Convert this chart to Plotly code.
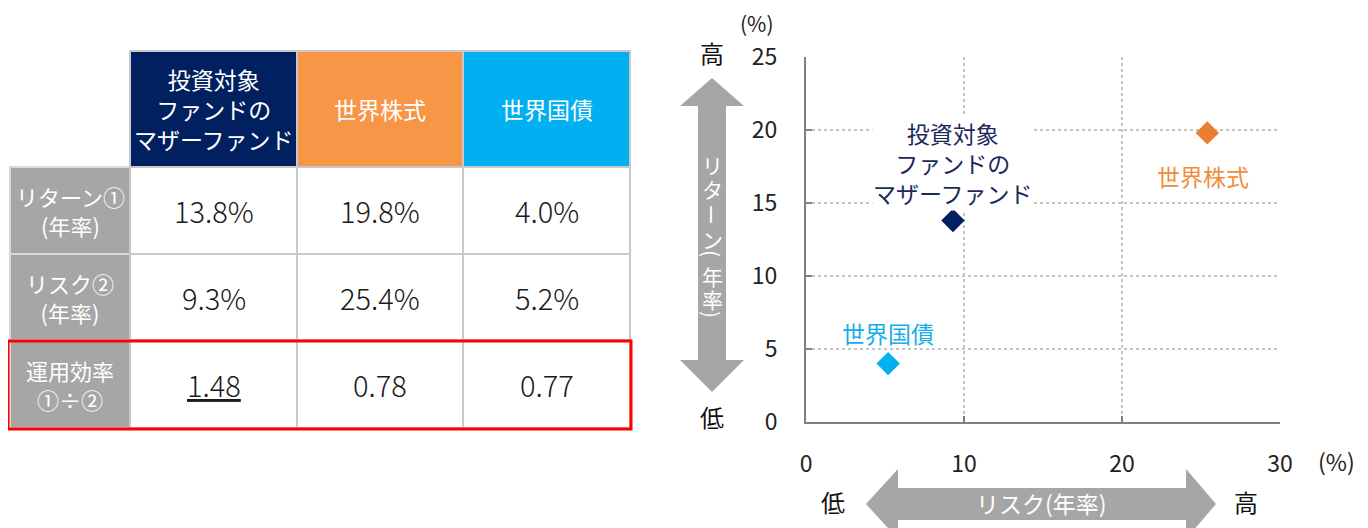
import plotly.graph_objects as go

# The page body adds an 8px margin; the figure is sized so that
# it exactly fills the 1368x528 viewport after that offset.
OFF = 8
W, H = 1368 - OFF, 528 - OFF
FONT = "Noto Sans CJK JP"

# ---------------- data ----------------
assets_table = ["投資対象<br>ファンドの<br>マザーファンド", "世界株式", "世界国債"]
assets_chart = ["投資対象<br>ファンドの<br>マザーファンド", "世界株式", "世界国債"]
returns = [13.8, 19.8, 4.0]      # リターン① (年率, %)
risks = [9.3, 25.4, 5.2]         # リスク② (年率, %)
efficiency = [1.48, 0.78, 0.77]  # 運用効率 ①÷②
row_labels = ["リターン①<br>(年率)", "リスク②<br>(年率)", "運用効率<br>①÷②"]
x_ticks = [0, 10, 20, 30]
y_ticks = [0, 5, 10, 15, 20, 25]

header_colors = ["#002060", "#F79646", "#00B0F0"]
marker_colors = ["#002060", "#ED7D31", "#00B0F0"]
label_colors = ["#1B2A5C", "#F28C3A", "#16ADEA"]


def px(x):
    return (x - OFF) / W


def py(y):
    return 1 - (y - OFF) / H


fig = go.Figure()

fig.add_trace(go.Scatter(
    x=risks, y=returns, mode="markers",
    marker=dict(symbol="diamond", size=18, color=marker_colors, line=dict(width=0)),
    hoverinfo="skip", showlegend=False,
))

shapes = []
annotations = []

# ---------------- table ----------------
col_edges = [10, 130, 297, 463, 630]
row_edges = [51, 167, 254, 340, 428]
grid_line = "#c9c9c9"
label_fill = "#a6a6a6"

for j in range(3):
    x0, x1 = col_edges[j + 1], col_edges[j + 2]
    y0, y1 = row_edges[0], row_edges[1]
    shapes.append(dict(type="rect", xref="paper", yref="paper",
                       x0=px(x0), x1=px(x1), y0=py(y1), y1=py(y0),
                       fillcolor=header_colors[j], line=dict(color=grid_line, width=2), layer="below"))
    annotations.append(dict(xref="paper", yref="paper", x=px((x0 + x1) / 2), y=py((y0 + y1) / 2),
                            text=assets_table[j], showarrow=False, xanchor="center", yanchor="middle",
                            font=dict(family=FONT, size=23, color="white")))

values_text = [
    [f"{v:.1f}%" for v in returns],
    [f"{v:.1f}%" for v in risks],
    [(f"<u>{v:.2f}</u>" if k == 0 else f"{v:.2f}") for k, v in enumerate(efficiency)],
]

for i in range(3):
    y0, y1 = row_edges[i + 1], row_edges[i + 2]
    shapes.append(dict(type="rect", xref="paper", yref="paper",
                       x0=px(col_edges[0]), x1=px(col_edges[1]), y0=py(y1), y1=py(y0),
                       fillcolor=label_fill, line=dict(color="#d9d9d9", width=2), layer="below"))
    annotations.append(dict(xref="paper", yref="paper", x=px((col_edges[0] + col_edges[1]) / 2),
                            y=py((y0 + y1) / 2), text=row_labels[i], showarrow=False,
                            xanchor="center", yanchor="middle",
                            font=dict(family=FONT, size=22, color="white")))
    for j in range(3):
        x0, x1 = col_edges[j + 1], col_edges[j + 2]
        shapes.append(dict(type="rect", xref="paper", yref="paper",
                           x0=px(x0), x1=px(x1), y0=py(y1), y1=py(y0),
                           fillcolor="white", line=dict(color=grid_line, width=2), layer="below"))
        annotations.append(dict(xref="paper", yref="paper", x=px((x0 + x1) / 2), y=py((y0 + y1) / 2),
                                text=values_text[i][j], showarrow=False, xanchor="center", yanchor="middle",
                                font=dict(family=FONT, size=29, color="#1a1a1a", weight=300)))

shapes.append(dict(type="rect", xref="paper", yref="paper",
                   x0=px(8), x1=px(631), y0=py(429), y1=py(341),
                   fillcolor="rgba(0,0,0,0)", line=dict(color="#ff0000", width=3), layer="above"))

# ---------------- arrows ----------------
arrow_color = "#a6a6a6"


def path(points):
    return "M " + " L ".join(f"{px(x):.5f},{py(y):.5f}" for x, y in points) + " Z"


cx = 712
v_pts = [(cx, 78), (cx + 32, 106), (cx + 14, 106), (cx + 14, 360), (cx + 32, 360), (cx, 392),
         (cx - 32, 360), (cx - 14, 360), (cx - 14, 106), (cx - 32, 106)]
shapes.append(dict(type="path", xref="paper", yref="paper", path=path(v_pts),
                   fillcolor=arrow_color, line=dict(width=0), layer="below"))

cy = 504
h_pts = [(866, cy), (898, cy - 35), (898, cy - 16), (1186, cy - 16), (1186, cy - 35), (1216, cy),
         (1186, cy + 35), (1186, cy + 16), (898, cy + 16), (898, cy + 35)]
shapes.append(dict(type="path", xref="paper", yref="paper", path=path(h_pts),
                   fillcolor=arrow_color, line=dict(width=0), layer="below"))

v_chars = list("リターン(年率)")
v_pos = [165, 189, 214, 239, 253, 276, 299, 314]
for ch, yy in zip(v_chars, v_pos):
    rot = 90 if ch in "ー()" else 0
    annotations.append(dict(xref="paper", yref="paper", x=px(cx), y=py(yy), text=ch, showarrow=False,
                            xanchor="center", yanchor="middle", textangle=rot,
                            font=dict(family=FONT, size=21, color="white")))

annotations.append(dict(xref="paper", yref="paper", x=px(1041), y=py(503), text="リスク(年率)",
                        showarrow=False, xanchor="center", yanchor="middle",
                        font=dict(family=FONT, size=23, color="white")))

for txt, x, y in [("高", 712, 52), ("低", 712, 416), ("低", 833, 501), ("高", 1246, 501)]:
    annotations.append(dict(xref="paper", yref="paper", x=px(x), y=py(y), text=txt, showarrow=False,
                            xanchor="center", yanchor="middle",
                            font=dict(family=FONT, size=24, color="#111111")))

annotations.append(dict(xref="paper", yref="paper", x=px(757), y=py(23), text="(%)", showarrow=False,
                        xanchor="center", yanchor="middle", font=dict(family=FONT, size=21, color="#222222")))
annotations.append(dict(xref="paper", yref="paper", x=px(1336), y=py(461), text="(%)", showarrow=False,
                        xanchor="center", yanchor="middle", font=dict(family=FONT, size=23, color="#222222")))

label_shifts = [(0, 58), (-4, -43), (0, 31)]
for k in range(3):
    ann = dict(xref="x", yref="y", x=risks[k], y=returns[k], text=assets_chart[k], showarrow=False,
               xanchor="center", yanchor="middle", xshift=label_shifts[k][0], yshift=label_shifts[k][1],
               font=dict(family=FONT, size=23, color=label_colors[k]))
    if k == 0:
        ann.update(bgcolor="white", borderpad=0)
    annotations.append(ann)

axis_common = dict(
    showline=True, linecolor="#808080", linewidth=2,
    ticks="inside", ticklen=6, tickcolor="#808080", tickwidth=1.5,
    showgrid=True, gridcolor="#c4c4c4", griddash="dot", gridwidth=1.5,
    zeroline=False, fixedrange=True, automargin=False,
    tickfont=dict(family=FONT, size=23, color="#222222"),
)

fig.update_layout(
    width=W, height=H, autosize=False,
    margin=dict(l=0, r=0, t=0, b=0, pad=0, autoexpand=False),
    paper_bgcolor="white", plot_bgcolor="white",
    showlegend=False,
    font=dict(family=FONT),
    xaxis=dict(domain=[px(806), px(1280)], range=[0, 30], tickvals=x_ticks,
               ticklabelstandoff=20, **axis_common),
    yaxis=dict(domain=[py(422), py(57)], range=[0, 25], tickvals=y_ticks,
               ticklabelstandoff=22, **axis_common),
    shapes=shapes,
    annotations=annotations,
)

fig.write_html("out.html")
